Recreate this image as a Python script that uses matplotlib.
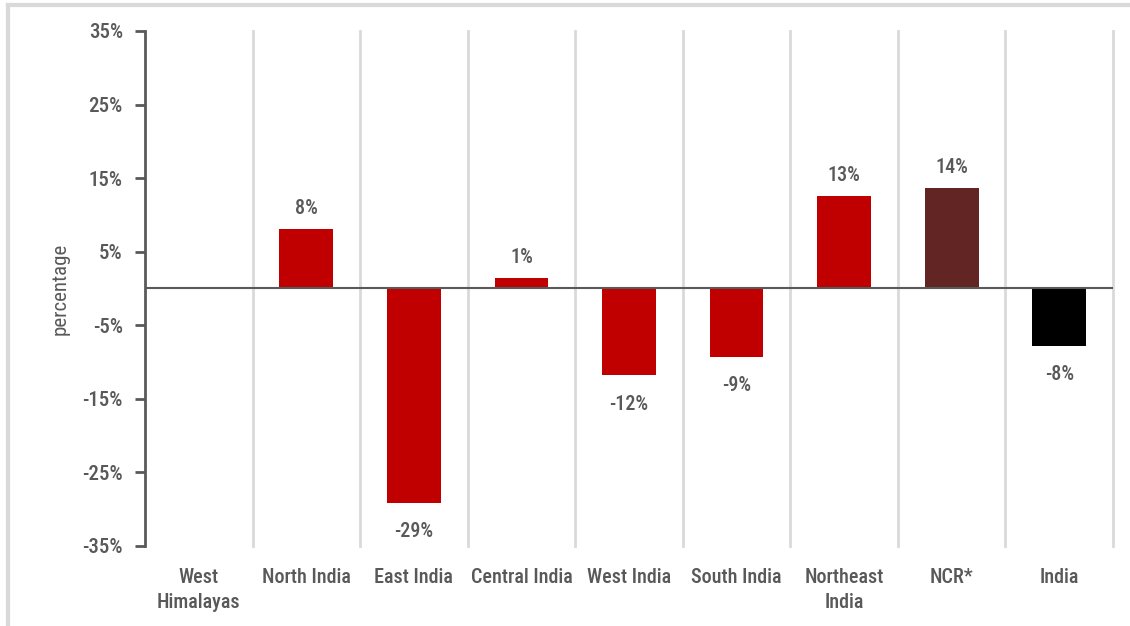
import matplotlib.pyplot as plt
from matplotlib.lines import Line2D
import numpy as np

# region labels and change (percent)
regions = ['West\nHimalayas', 'North India', 'East India', 'Central India',
           'West India', 'South India', 'Northeast\nIndia', 'NCR*', 'India']
change = [np.nan, 8.1, -29.1, 1.4, -11.8, -9.3, 12.6, 13.7, -7.8]
labels = ['', '8%', '-29%', '1%', '-12%', '-9%', '13%', '14%', '-8%']
colors = ['#C00000'] * 7 + ['#632523', '#000000']
yticks = [-35, -25, -15, -5, 5, 15, 25, 35]

plt.rcParams['font.family'] = ['Roboto Condensed', 'DejaVu Sans']
plt.rcParams['font.stretch'] = 'condensed'
plt.rcParams['font.weight'] = 'medium'
text_col = '#595959'

fig = plt.figure(figsize=(11.3, 6.26), dpi=100)
ax = fig.add_axes([0.1283, 0.1278, 0.8567, 0.8227])

x = np.arange(len(regions))
ax.bar(x, change, width=0.5, color=colors, zorder=3)

for xi, v, lab in zip(x, change, labels):
    if np.isnan(v):
        continue
    off = 8 if v >= 0 else -14
    ax.annotate(lab, (xi, v), xytext=(0, off), textcoords='offset points',
                ha='center', va='bottom' if v >= 0 else 'top',
                fontsize=14.5, color=text_col)

# vertical separators between categories
for b in x + 0.5:
    ax.axvline(b, color='#D9D9D9', lw=2, zorder=1, clip_on=False)
ax.axhline(0, color='#595959', lw=1.5, zorder=4)

ax.set_xlim(-0.5, len(regions) - 0.5)
ax.set_ylim(-35, 35)
ax.set_yticks(yticks)
ax.set_yticklabels([f'{t}%' for t in yticks], fontsize=15, color=text_col)
ax.set_xticks(x)
ax.set_xticklabels(regions, fontsize=14.5, color=text_col, linespacing=1.4)
ax.tick_params(axis='x', length=0, pad=15.5)
ax.tick_params(axis='y', length=7, width=2, color='#595959', pad=9)
ax.set_ylabel('percentage', fontsize=15, color=text_col, labelpad=9)

for s in ['top', 'right', 'bottom']:
    ax.spines[s].set_visible(False)
ax.spines['left'].set_color('#595959')
ax.spines['left'].set_linewidth(2)

# light frame at the top and left of the picture
fig.add_artist(Line2D([8 / 1130, 1], [1 - 5 / 626, 1 - 5 / 626], color='#D9D9D9', lw=3))
fig.add_artist(Line2D([8 / 1130, 8 / 1130], [0, 1 - 5 / 626], color='#D9D9D9', lw=3))

fig.savefig('out.png', dpi=100)
